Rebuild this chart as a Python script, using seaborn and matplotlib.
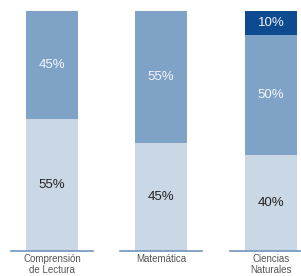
import numpy as np
import matplotlib
matplotlib.use("Agg")
import matplotlib.pyplot as plt
import seaborn as sns

sns.set_theme(style="white")
plt.rcParams['font.family'] = ['Liberation Sans', 'DejaVu Sans']

categories = ["Comprensión\nde Lectura", "Matemática", "Ciencias\nNaturales"]
nivel_bajo = [55, 45, 40]
nivel_medio = [45, 55, 50]
nivel_alto = [0, 0, 10]

colors = ["#cad8e6", "#7fa3c7", "#0d4a8f"]
text_colors = ["#222222", "#f4f6fa", "#f4f6fa"]

fig = plt.figure(figsize=(3.01, 2.76), dpi=100)
W, H = 301.0, 276.0
lefts = [11, 120, 230]

for i, cat in enumerate(categories):
    ax = fig.add_axes([lefts[i] / W, 25 / H, 82 / W, 240 / H])
    segs = [nivel_bajo[i], nivel_medio[i], nivel_alto[i]]
    cum = np.cumsum(segs)
    # draw back to front so the stacks show
    for k in range(2, -1, -1):
        if segs[k] == 0:
            continue
        sns.barplot(x=[cat], y=[cum[k]], color=colors[k], width=52 / 82,
                    saturation=1, ax=ax, linewidth=0)
    start = 0
    for k, v in enumerate(segs):
        if v > 0:
            ax.text(0, start + v / 2, f"{v}%", ha="center", va="center",
                    fontsize=9.5, color=text_colors[k])
        start += v
    ax.set_ylim(0, 100)
    ax.set_xlim(-0.5, 0.5)
    ax.set_yticks([])
    ax.set_ylabel("")
    ax.set_xlabel("")
    for s in ["top", "left", "right"]:
        ax.spines[s].set_visible(False)
    ax.spines["bottom"].set_color("#6f93bd")
    ax.spines["bottom"].set_linewidth(1.2)
    ax.tick_params(axis="x", length=0, pad=2, labelsize=7, labelcolor="#555555")
    for lab in ax.get_xticklabels():
        lab.set_linespacing(1.1)
    ax.patch.set_alpha(0)

fig.savefig("out.png", dpi=100)
